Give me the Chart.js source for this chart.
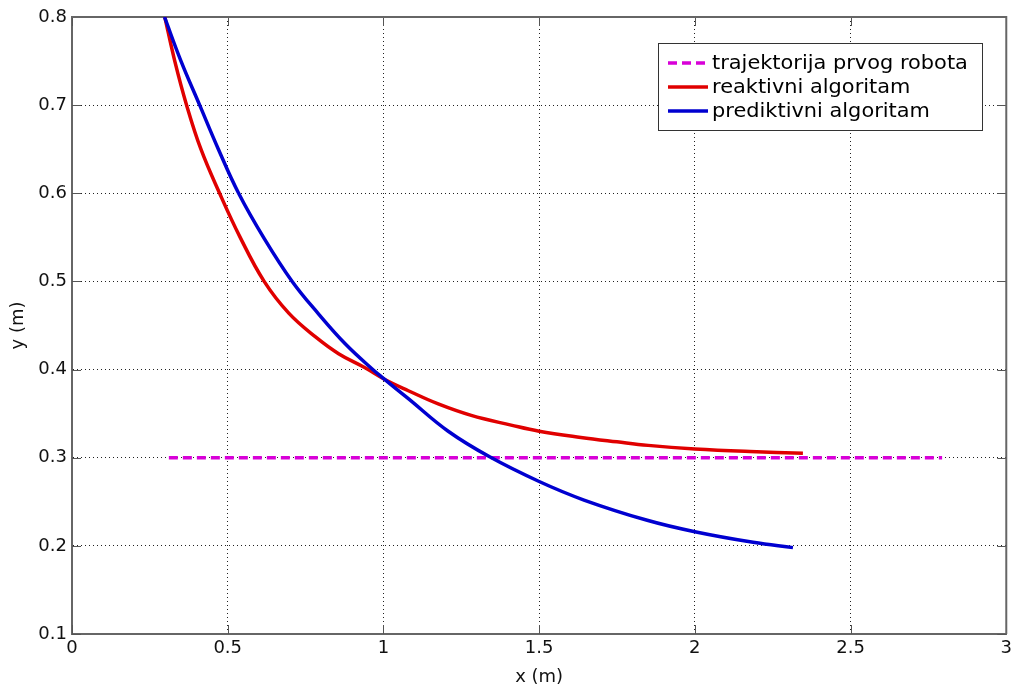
<!DOCTYPE html>
<html>
<head>
<meta charset="utf-8">
<title>Trajektorije</title>
<script src="https://cdn.jsdelivr.net/npm/chart.js@4.4.1/dist/chart.umd.min.js"></script>
<style>
  html, body { margin: 0; padding: 0; background: #fff; }
  #wrap { width: 1016px; height: 686px; }
</style>
</head>
<body>
<div id="wrap"><canvas id="trajChart" width="1016" height="686"></canvas></div>
<script>
// values (metres)
const prviX = [0.311, 2.794];
const prviY = [0.300, 0.300];

const reaktivniX = [0.298, 0.330, 0.368, 0.414, 0.474, 0.540, 0.617, 0.696, 0.782, 0.856, 0.941, 1.003, 1.080, 1.176, 1.282, 1.410, 1.500, 1.634, 1.750, 1.850, 2.000, 2.177, 2.347];
const reaktivniY = [0.800, 0.750, 0.700, 0.650, 0.600, 0.550, 0.500, 0.464, 0.437, 0.418, 0.402, 0.389, 0.376, 0.361, 0.348, 0.337, 0.330, 0.323, 0.318, 0.314, 0.310, 0.307, 0.305];

const prediktivniX = [0.297, 0.350, 0.410, 0.470, 0.535, 0.615, 0.707, 0.792, 0.878, 0.963, 1.000, 1.080, 1.208, 1.341, 1.500, 1.644, 1.847, 2.000, 2.187, 2.315];
const prediktivniY = [0.800, 0.750, 0.700, 0.650, 0.600, 0.550, 0.500, 0.463, 0.429, 0.401, 0.390, 0.367, 0.330, 0.301, 0.273, 0.252, 0.229, 0.216, 0.204, 0.198];

const xTicks = [0, 0.5, 1, 1.5, 2, 2.5, 3];
const yTicks = [0.1, 0.2, 0.3, 0.4, 0.5, 0.6, 0.7, 0.8];
const xTickLabels = ['0', '0.5', '1', '1.5', '2', '2.5', '3'];
const yTickLabels = ['0.1', '0.2', '0.3', '0.4', '0.5', '0.6', '0.7', '0.8'];

const seriesLabels = ['trajektorija prvog robota', 'reaktivni algoritam', 'prediktivni algoritam'];

function toPoints(xs, ys) {
    return xs.map((x, i) => ({ x: x, y: ys[i] }));
}

const FONT = '"DejaVu Sans", Verdana, sans-serif';

// box around the plot with little inward ticks on every side (MATLAB style)
const frameBox = {
    id: 'frameBox',
    beforeDatasetsDraw(chart) {
        const { ctx, chartArea: a, scales } = chart;
        ctx.save();
        ctx.strokeStyle = '#555';
        ctx.lineWidth = 1;
        ctx.beginPath();
        xTicks.forEach(v => {
            const px = Math.round(scales.x.getPixelForValue(v)) + 0.5;
            ctx.moveTo(px, a.bottom); ctx.lineTo(px, a.bottom - 9);
            ctx.moveTo(px, a.top); ctx.lineTo(px, a.top + 9);
        });
        yTicks.forEach(v => {
            const py = Math.round(scales.y.getPixelForValue(v)) + 0.5;
            ctx.moveTo(a.left, py); ctx.lineTo(a.left + 9, py);
            ctx.moveTo(a.right, py); ctx.lineTo(a.right - 9, py);
        });
        ctx.stroke();
        ctx.strokeStyle = '#666';
        ctx.lineWidth = 2;
        ctx.beginPath();
        ctx.moveTo(a.left, a.top); ctx.lineTo(a.right, a.top); ctx.lineTo(a.right, a.bottom);
        ctx.stroke();
        ctx.restore();
    }
};

// legend box inside the plot, top right
const insideLegend = {
    id: 'insideLegend',
    afterDraw(chart) {
        const { ctx, chartArea: a } = chart;
        const w = 324, h = 87;
        const x0 = Math.round(a.right - 24 - w), y0 = Math.round(a.top + 26);
        ctx.save();
        ctx.fillStyle = '#fff';
        ctx.fillRect(x0, y0, w, h);
        ctx.strokeStyle = '#333';
        ctx.lineWidth = 1;
        ctx.strokeRect(x0 + 0.5, y0 + 0.5, w, h);
        chart.data.datasets.forEach((ds, i) => {
            const y = y0 + 20 + i * 24;
            ctx.strokeStyle = ds.borderColor;
            ctx.lineWidth = 3.5;
            ctx.setLineDash(ds.borderDash || []);
            ctx.beginPath();
            ctx.moveTo(x0 + 10, y); ctx.lineTo(x0 + 50, y);
            ctx.stroke();
            ctx.setLineDash([]);
            ctx.save();
            ctx.translate(x0 + 54, y + 1);
            ctx.scale(1.1, 1.05);
            ctx.fillStyle = '#000';
            ctx.font = '19px ' + FONT;
            ctx.textBaseline = 'middle';
            ctx.fillText(ds.label, 0, 0);
            ctx.restore();
        });
        ctx.restore();
    }
};

const ctx = document.getElementById('trajChart').getContext('2d');
new Chart(ctx, {
    type: 'line',
    data: {
        datasets: [{
            label: seriesLabels[0],
            data: toPoints(prviX, prviY),
            borderColor: '#d800d8',
            borderWidth: 3.5,
            borderDash: [9, 5],
            pointRadius: 0,
            order: 2
        }, {
            label: seriesLabels[1],
            data: toPoints(reaktivniX, reaktivniY),
            borderColor: '#e00000',
            borderWidth: 3.5,
            pointRadius: 0,
            tension: 0.4,
            order: 1
        }, {
            label: seriesLabels[2],
            data: toPoints(prediktivniX, prediktivniY),
            borderColor: '#0000d0',
            borderWidth: 3.5,
            pointRadius: 0,
            tension: 0.4,
            order: 0
        }]
    },
    options: {
        responsive: false,
        animation: false,
        events: [],
        layout: { padding: { top: 17, right: 5, left: 0, bottom: 0 } },
        plugins: {
            legend: { display: false },
            tooltip: { enabled: false }
        },
        scales: {
            x: {
                type: 'linear',
                min: 0,
                max: 3,
                afterBuildTicks: s => { s.ticks = xTicks.map(v => ({ value: v })); },
                afterFit: s => { s.height = 52; },
                ticks: {
                    color: '#111',
                    font: { family: FONT, size: 18 },
                    padding: 4,
                    maxRotation: 0,
                    callback: (v) => xTickLabels[xTicks.indexOf(v)]
                },
                grid: { color: '#222', lineWidth: 1, drawTicks: false },
                border: { display: true, color: '#666', width: 2, dash: [1, 3] },
                title: {
                    display: true,
                    text: 'x (m)',
                    color: '#111',
                    font: { family: FONT, size: 18 },
                    padding: { top: 0, bottom: -2 }
                }
            },
            y: {
                type: 'linear',
                min: 0.1,
                max: 0.8,
                afterBuildTicks: s => { s.ticks = yTicks.map(v => ({ value: v })); },
                afterFit: s => { s.width = 72; },
                ticks: {
                    color: '#111',
                    font: { family: FONT, size: 18 },
                    padding: 5,
                    callback: (v) => yTickLabels[yTicks.indexOf(v)]
                },
                grid: { color: '#222', lineWidth: 1, drawTicks: false },
                border: { display: true, color: '#666', width: 2, dash: [1, 3] },
                title: {
                    display: true,
                    text: 'y (m)',
                    color: '#111',
                    font: { family: FONT, size: 18 },
                    padding: { top: 8, bottom: 0 }
                }
            }
        }
    },
    plugins: [frameBox, insideLegend]
});
</script>
</body>
</html>
